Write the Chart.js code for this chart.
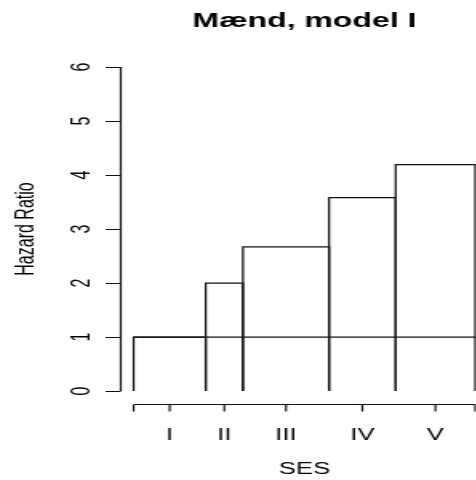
<!DOCTYPE html>
<html>
<head>
<meta charset="utf-8">
<script src="https://cdn.jsdelivr.net/npm/chart.js@4.4.1/dist/chart.umd.min.js"></script>
<style>
  html, body { margin: 0; padding: 0; background: #fff; overflow: hidden; width: 476px; height: 480px; }
  /* the figure is drawn narrow and widened on screen */
  #c { display: block; transform: scaleX(1.6); transform-origin: 0 0; }
</style>
</head>
<body>
<canvas id="c" width="313" height="480"></canvas>
<script>
// Men, model I: hazard ratio by socio-economic status (SES)
const categories   = ['I', 'II', 'III', 'IV', 'V'];
const groupShares  = [21.1, 10.9, 25.2, 19.5, 23.3];   // bar widths (% of men in each group)
const hazardRatios = [1.0, 2.0, 2.67, 3.58, 4.19];
const yTicks       = [0, 1, 2, 3, 4, 5, 6];
const referenceLevel = 1;

const titleText = 'Mænd, model I';
const xTitle = 'SES';
const yTitle = 'Hazard Ratio';

// bar edges from the cumulative shares
const edges = [0];
groupShares.forEach((w, i) => edges.push(edges[i] + w));
const total = edges[edges.length - 1];
const mids = categories.map((_, i) => (edges[i] + edges[i + 1]) / 2);

const ink = '#000';
const FONT = "'Liberation Sans', Arial, sans-serif";

const barSets = categories.map((cat, i) => ({
  label: cat,
  data: [
    { x: edges[i], y: 0 },
    { x: edges[i], y: hazardRatios[i] },
    { x: edges[i + 1], y: hazardRatios[i] },
    { x: edges[i + 1], y: 0 }
  ],
  showLine: true, borderColor: '#111', borderWidth: 1.25, pointRadius: 0, fill: false, tension: 0
}));

const refSet = {
  label: 'ref',
  data: [{ x: edges[0], y: referenceLevel }, { x: total, y: referenceLevel }],
  showLine: true, borderColor: '#111', borderWidth: 1.25, pointRadius: 0, fill: false
};

// R-style axes, tick labels and titles
const baseAxes = {
  id: 'baseAxes',
  afterDraw(chart) {
    const { ctx, chartArea: a, scales: { x, y } } = chart;
    ctx.save();
    ctx.strokeStyle = '#111';
    ctx.fillStyle = ink;
    ctx.lineWidth = 1.2;

    // y axis
    const yTop = y.getPixelForValue(yTicks[yTicks.length - 1]);
    const yBot = y.getPixelForValue(yTicks[0]);
    ctx.beginPath();
    ctx.moveTo(a.left + 0.5, yTop);
    ctx.lineTo(a.left + 0.5, yBot);
    yTicks.forEach(v => {
      const py = Math.round(y.getPixelForValue(v)) + 0.5;
      ctx.moveTo(a.left + 0.5, py);
      ctx.lineTo(a.left - 9, py);
    });
    ctx.stroke();

    ctx.font = '16px ' + FONT;
    ctx.textAlign = 'center';
    ctx.textBaseline = 'alphabetic';
    yTicks.forEach(v => {
      ctx.save();
      ctx.translate(56.3, y.getPixelForValue(v));
      ctx.rotate(-Math.PI / 2);
      ctx.fillText(String(v), 0, 0);
      ctx.restore();
    });

    // x axis
    const xl = x.getPixelForValue(edges[0]);
    const xr = x.getPixelForValue(total);
    const ay = a.bottom + 0.5;
    ctx.beginPath();
    ctx.moveTo(xl, ay);
    ctx.lineTo(xr, ay);
    [edges[0], ...mids, total].forEach(v => {
      const px = x.getPixelForValue(v);
      ctx.moveTo(px, ay);
      ctx.lineTo(px, ay + 7);
    });
    ctx.stroke();

    mids.forEach((m, i) => ctx.fillText(categories[i], x.getPixelForValue(m), 439.5));

    // axis titles
    const cx = (a.left + a.right) / 2;
    ctx.fillText(xTitle, cx, 474);
    ctx.save();
    ctx.translate(20.6, (a.top + a.bottom) / 2);
    ctx.rotate(-Math.PI / 2);
    ctx.fillText(yTitle, 0, 0);
    ctx.restore();

    // main title
    ctx.font = 'bold 20px ' + FONT;
    ctx.fillText(titleText, cx, 27);
    ctx.restore();
  }
};

new Chart(document.getElementById('c'), {
  type: 'scatter',
  data: { datasets: [...barSets, refSet] },
  options: {
    responsive: false,
    devicePixelRatio: 1,
    animation: false,
    layout: { padding: { left: 75, right: 7.4, top: 54, bottom: 76 } },
    scales: {
      x: { type: 'linear', display: false, min: -0.04 * total, max: 1.04 * total },
      y: { type: 'linear', display: false, min: -0.04 * 6, max: 6 * 1.04 }
    },
    plugins: { legend: { display: false }, tooltip: { enabled: false }, title: { display: false } }
  },
  plugins: [baseAxes]
});
</script>
</body>
</html>
